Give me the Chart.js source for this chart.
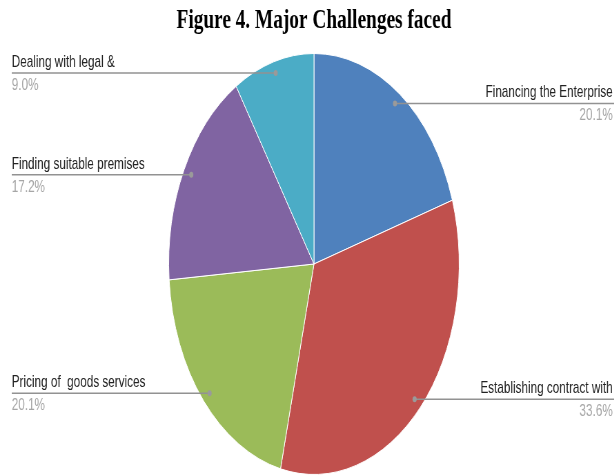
<!DOCTYPE html>
<html><head><meta charset="utf-8">
<script src="https://cdn.jsdelivr.net/npm/chart.js@4"></script>
<style>
html,body{margin:0;padding:0;overflow:hidden;background:#fff;width:614px;height:476px;}
#wrap{position:absolute;left:0;top:0;width:890px;height:476px;transform:scaleX(0.69);transform-origin:0 0;}
</style></head><body>
<div id="wrap"><canvas id="c"></canvas></div>
<script>
const titleText = 'Figure 4. Major Challenges faced';
const categories = ['Financing the Enterprise','Establishing contract with','Pricing of  goods services','Finding suitable premises','Dealing with legal &'];
const values = [20.1, 33.6, 20.1, 17.2, 9.0];
const valueLabels = ['20.1%','33.6%','20.1%','17.2%','9.0%'];
const colors = ['#4F81BD','#C0504D','#9BBB59','#8064A2','#4BACC6'];

const leaderLabels = {
  id: 'leaderLabels',
  afterDatasetsDraw(chart) {
    const ctx = chart.ctx;
    const meta = chart.getDatasetMeta(0);
    const W = chart.width;
    const margin = 17;
    meta.data.forEach((arc, i) => {
      const p = arc.getProps(['x','y','startAngle','endAngle','outerRadius'], true);
      const mid = (p.startAngle + p.endAngle) / 2;
      const dx = p.x + Math.cos(mid) * p.outerRadius * 0.945;
      const dy = p.y + Math.sin(mid) * p.outerRadius * 0.945;
      const right = Math.cos(mid) >= 0;
      const endX = right ? W : margin;
      ctx.save();
      ctx.strokeStyle = '#929292';
      ctx.lineWidth = 1.5;
      ctx.beginPath(); ctx.moveTo(dx, dy); ctx.lineTo(endX, dy); ctx.stroke();
      ctx.fillStyle = '#9a9a9a';
      ctx.beginPath(); ctx.arc(dx, dy, 3, 0, Math.PI * 2); ctx.fill();
      ctx.font = '17px "Liberation Sans", Arial, sans-serif';
      ctx.textAlign = right ? 'right' : 'left';
      ctx.textBaseline = 'alphabetic';
      const tx = right ? W - 2 : margin;
      ctx.fillStyle = '#222222';
      ctx.fillText(categories[i], tx, dy - 6);
      ctx.fillStyle = '#a6a6a6';
      ctx.fillText(valueLabels[i], tx, dy + 17);
      ctx.restore();
    });
  }
};

new Chart(document.getElementById('c'), {
  type: 'pie',
  data: {
    labels: categories,
    datasets: [{ data: values, backgroundColor: colors, borderColor: '#ffffff', borderWidth: 1 }]
  },
  options: {
    responsive: true,
    maintainAspectRatio: false,
    animation: false,
    layout: { padding: { left: 20, right: 0, top: 0, bottom: 1 } },
    plugins: {
      legend: { display: false },
      tooltip: { enabled: false },
      title: {
        display: true,
        text: titleText,
        color: '#000000',
        font: { family: '"Liberation Serif", "Times New Roman", serif', size: 28, weight: 'bold' },
        padding: { top: 4, bottom: 15.4 }
      }
    }
  },
  plugins: [leaderLabels]
});
</script>
</body></html>
